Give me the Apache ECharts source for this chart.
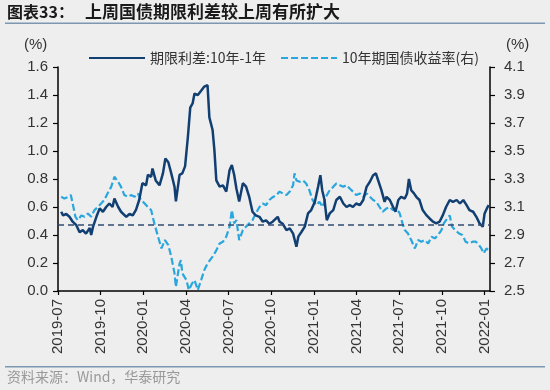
<!DOCTYPE html>
<html>
<head>
<meta charset="utf-8">
<script src="https://cdn.jsdelivr.net/npm/echarts@6/dist/echarts.min.js"></script>
<style>
html,body{margin:0;padding:0;background:#eeeeee;}
#c{width:550px;height:390px;}
</style>
</head>
<body>
<div id="c"></div>
<script>
// ---- Data ----
const xTickLabels = ['2019-07','2019-10','2020-01','2020-04','2020-07','2020-10','2021-01','2021-04','2021-07','2021-10','2022-01'];
const leftTicks = [0.0,0.2,0.4,0.6,0.8,1.0,1.2,1.4,1.6];
const rightTicks = [2.5,2.7,2.9,3.1,3.3,3.5,3.7,3.9,4.1];
const refLine = 0.475;

const spreadDates = ['2019-07-08','2019-07-12','2019-07-19','2019-07-26','2019-08-02','2019-08-10','2019-08-17','2019-08-24','2019-08-31','2019-09-08','2019-09-11','2019-09-15','2019-09-22','2019-09-29','2019-10-06','2019-10-13','2019-10-20','2019-10-27','2019-10-31','2019-11-08','2019-11-14','2019-11-25','2019-12-02','2019-12-09','2019-12-16','2019-12-23','2019-12-30','2020-01-07','2020-01-11','2020-01-18','2020-01-21','2020-01-28','2020-02-05','2020-02-12','2020-02-17','2020-02-23','2020-02-29','2020-03-07','2020-03-10','2020-03-18','2020-03-24','2020-03-30','2020-04-05','2020-04-10','2020-04-15','2020-04-19','2020-04-26','2020-05-03','2020-05-10','2020-05-17','2020-05-21','2020-05-28','2020-06-01','2020-06-05','2020-06-12','2020-06-19','2020-06-26','2020-07-03','2020-07-08','2020-07-13','2020-07-18','2020-07-24','2020-08-01','2020-08-08','2020-08-15','2020-08-22','2020-08-29','2020-09-06','2020-09-13','2020-09-20','2020-09-27','2020-10-04','2020-10-08','2020-10-15','2020-10-19','2020-10-26','2020-11-03','2020-11-10','2020-11-17','2020-11-24','2020-11-28','2020-12-05','2020-12-12','2020-12-19','2020-12-26','2021-01-03','2021-01-10','2021-01-15','2021-01-19','2021-01-24','2021-01-29','2021-02-04','2021-02-11','2021-02-17','2021-02-24','2021-03-03','2021-03-10','2021-03-17','2021-03-24','2021-03-31','2021-04-08','2021-04-15','2021-04-22','2021-04-29','2021-05-06','2021-05-12','2021-05-16','2021-05-24','2021-05-31','2021-06-04','2021-06-11','2021-06-18','2021-06-23','2021-06-29','2021-07-05','2021-07-13','2021-07-18','2021-07-22','2021-07-27','2021-08-02','2021-08-07','2021-08-14','2021-08-21','2021-08-29','2021-09-05','2021-09-12','2021-09-19','2021-09-26','2021-10-03','2021-10-10','2021-10-18','2021-10-25','2021-11-02','2021-11-09','2021-11-16','2021-11-23','2021-11-29','2021-12-07','2021-12-14','2021-12-21','2021-12-28','2022-01-01','2022-01-06','2022-01-10'];
const spreadValues = [0.566,0.54,0.55,0.53,0.495,0.47,0.42,0.435,0.41,0.45,0.40,0.46,0.53,0.59,0.566,0.60,0.625,0.60,0.66,0.60,0.566,0.53,0.55,0.54,0.58,0.65,0.77,0.755,0.83,0.815,0.875,0.79,0.755,0.84,0.946,0.92,0.84,0.745,0.64,0.83,0.84,0.89,1.10,1.31,1.34,1.41,1.40,1.43,1.46,1.47,1.24,1.15,1.005,0.79,0.745,0.755,0.71,0.863,0.90,0.83,0.73,0.64,0.77,0.745,0.67,0.566,0.54,0.53,0.495,0.505,0.48,0.495,0.505,0.53,0.495,0.48,0.435,0.447,0.41,0.316,0.388,0.423,0.46,0.554,0.578,0.637,0.744,0.827,0.72,0.65,0.506,0.554,0.578,0.65,0.673,0.625,0.60,0.613,0.60,0.625,0.613,0.65,0.744,0.78,0.827,0.84,0.80,0.72,0.637,0.673,0.65,0.60,0.566,0.65,0.673,0.66,0.697,0.80,0.72,0.697,0.673,0.65,0.578,0.542,0.518,0.495,0.483,0.495,0.542,0.60,0.65,0.637,0.65,0.625,0.65,0.613,0.578,0.566,0.53,0.483,0.459,0.554,0.59,0.613];

const yieldDates = ['2019-07-08','2019-07-15','2019-07-22','2019-07-29','2019-08-02','2019-08-08','2019-08-13','2019-08-21','2019-08-28','2019-09-04','2019-09-11','2019-09-18','2019-09-25','2019-10-02','2019-10-09','2019-10-16','2019-10-24','2019-10-31','2019-11-08','2019-11-14','2019-11-21','2019-11-29','2019-12-05','2019-12-13','2019-12-20','2019-12-27','2020-01-04','2020-01-11','2020-01-18','2020-01-25','2020-02-02','2020-02-09','2020-02-16','2020-02-23','2020-02-29','2020-03-07','2020-03-10','2020-03-18','2020-03-21','2020-03-24','2020-04-02','2020-04-07','2020-04-14','2020-04-19','2020-04-26','2020-05-03','2020-05-10','2020-05-17','2020-05-28','2020-06-05','2020-06-12','2020-06-19','2020-06-26','2020-07-03','2020-07-08','2020-07-13','2020-07-18','2020-07-24','2020-08-01','2020-08-08','2020-08-15','2020-08-22','2020-08-29','2020-09-06','2020-09-13','2020-09-20','2020-09-27','2020-10-04','2020-10-12','2020-10-19','2020-10-26','2020-11-03','2020-11-10','2020-11-17','2020-11-20','2020-11-24','2020-12-01','2020-12-08','2020-12-15','2020-12-22','2020-12-29','2021-01-06','2021-01-13','2021-01-20','2021-01-27','2021-02-04','2021-02-11','2021-02-17','2021-02-24','2021-03-03','2021-03-10','2021-03-17','2021-03-24','2021-03-31','2021-04-08','2021-04-15','2021-04-22','2021-04-29','2021-05-06','2021-05-13','2021-05-20','2021-05-27','2021-06-04','2021-06-11','2021-06-18','2021-06-25','2021-07-02','2021-07-08','2021-07-13','2021-07-20','2021-07-27','2021-08-04','2021-08-11','2021-08-18','2021-08-25','2021-09-02','2021-09-09','2021-09-16','2021-09-23','2021-09-30','2021-10-05','2021-10-10','2021-10-18','2021-10-23','2021-10-30','2021-11-07','2021-11-14','2021-11-21','2021-11-28','2021-12-06','2021-12-13','2021-12-20','2021-12-25','2021-12-30','2022-01-05','2022-01-10'];
const yieldValues = [3.173,3.16,3.17,3.185,3.125,3.03,3.006,3.04,3.03,3.054,3.03,3.078,3.10,3.125,3.15,3.197,3.244,3.316,3.28,3.244,3.185,3.173,3.185,3.173,3.197,3.15,3.125,3.10,3.078,2.983,2.888,2.804,2.864,2.828,2.745,2.626,2.53,2.697,2.72,2.626,2.578,2.507,2.555,2.578,2.507,2.578,2.65,2.697,2.745,2.79,2.84,2.852,2.888,2.96,3.078,2.983,3.006,2.864,2.935,2.96,2.983,3.006,3.054,3.10,3.125,3.113,3.15,3.17,3.185,3.21,3.197,3.185,3.21,3.256,3.34,3.29,3.28,3.29,3.268,3.22,3.15,3.113,3.137,3.10,3.173,3.22,3.244,3.268,3.256,3.244,3.256,3.232,3.21,3.185,3.197,3.173,3.197,3.173,3.15,3.137,3.10,3.066,3.09,3.10,3.078,3.09,3.054,2.983,2.935,2.911,2.864,2.804,2.864,2.852,2.864,2.84,2.888,2.876,2.90,2.935,2.983,3.006,3.04,2.96,2.935,2.911,2.90,2.852,2.84,2.852,2.852,2.828,2.804,2.769,2.804,2.79];

// ---- helpers: date string -> months since 2019-07 ----
function toX(d){
  const p = d.split('-').map(Number);
  const mi = (p[0]-2019)*12 + (p[1]-7);
  const dim = new Date(p[0], p[1], 0).getDate();
  return mi + (p[2]-1)/dim;
}
const spreadData = spreadDates.map((d,i)=>[toX(d), spreadValues[i]]);
const yieldData = yieldDates.map((d,i)=>[toX(d), yieldValues[i]]);

const chart = echarts.init(document.getElementById('c'), null, {renderer:'canvas'});
const axisFont = {fontFamily:'Liberation Sans, Arial, sans-serif', fontSize:15, color:'#333'};
const cjk = '"Noto Sans CJK SC", sans-serif';

chart.setOption({
  backgroundColor:'#eeeeee',
  animation:false,
  grid:{left:58, right:60, top:67, bottom:99, containLabel:false},
  legend:{
    left:83, top:46, itemWidth:56, itemHeight:2, itemGap:14,
    itemStyle:{opacity:0},
    textStyle:{fontFamily:cjk, fontSize:14, color:'#333'},
    data:['期限利差:10年-1年','10年期国债收益率(右)']
  },
  xAxis:{
    type:'value', min:0, max:30.38, interval:3,
    splitLine:{show:false},
    axisLine:{lineStyle:{color:'#000', width:1.5}},
    axisTick:{show:true, length:4, inside:false, lineStyle:{color:'#000', width:1.2}},
    axisLabel:Object.assign({rotate:90, margin:8, showMaxLabel:false,
      formatter:function(v){
        const k = Math.round(v);
        if (Math.abs(v-k) > 1e-6 || k % 3 !== 0) return '';
        return xTickLabels[k/3] || '';
      }}, axisFont)
  },
  yAxis:[
    {type:'value', min:leftTicks[0], max:leftTicks[leftTicks.length-1], interval:0.2,
     splitLine:{show:false},
     axisLine:{show:true, lineStyle:{color:'#000', width:1.5}},
     axisTick:{show:true, length:5, lineStyle:{color:'#000', width:1.2}},
     axisLabel:Object.assign({margin:10, formatter:v=>v.toFixed(1)}, axisFont)},
    {type:'value', min:rightTicks[0], max:rightTicks[rightTicks.length-1], interval:0.2,
     position:'right',
     splitLine:{show:false},
     axisLine:{show:true, lineStyle:{color:'#000', width:1.5}},
     axisTick:{show:true, length:5, lineStyle:{color:'#000', width:1.2}},
     axisLabel:Object.assign({margin:14, formatter:v=>v.toFixed(1)}, axisFont)}
  ],
  series:[
    {name:'期限利差:10年-1年', type:'line', yAxisIndex:0, data:spreadData,
     showSymbol:false, symbol:'none', z:3,
     lineStyle:{color:'#123f72', width:2.5}, itemStyle:{color:'#123f72'},
     markLine:{silent:true, symbol:['none','none'], label:{show:false},
       lineStyle:{color:'#2f4c72', width:1.5, type:[6,4]},
       data:[{yAxis:refLine}]}},
    {name:'10年期国债收益率(右)', type:'line', yAxisIndex:1, data:yieldData,
     showSymbol:false, symbol:'none', z:2,
     lineStyle:{color:'#2aa6de', width:2.2, type:[7,3]}, itemStyle:{color:'#2aa6de'}}
  ],
  graphic:[
    {type:'text', left:7, top:4, style:{text:'图表33：', font:'bold 16px '+cjk, fill:'#1a1a1a'}},
    {type:'text', left:85, top:3, style:{text:'上周国债期限利差较上周有所扩大', font:'bold 17px '+cjk, fill:'#1a1a1a'}},
    {type:'rect', shape:{x:5, y:22.5, width:540, height:1.5}, style:{fill:'#7d97b3'}},
    {type:'text', left:24, top:37, style:{text:'(%)', font:'15px Liberation Sans, Arial, sans-serif', fill:'#333'}},
    {type:'text', left:506, top:37, style:{text:'(%)', font:'15px Liberation Sans, Arial, sans-serif', fill:'#333'}},
    {type:'rect', shape:{x:5, y:366, width:540, height:1.5}, style:{fill:'#7d97b3'}},
    {type:'text', left:7, top:370, style:{text:'资料来源：Wind，华泰研究', font:'14px '+cjk, fill:'#999'}}
  ]
});
</script>
</body>
</html>
